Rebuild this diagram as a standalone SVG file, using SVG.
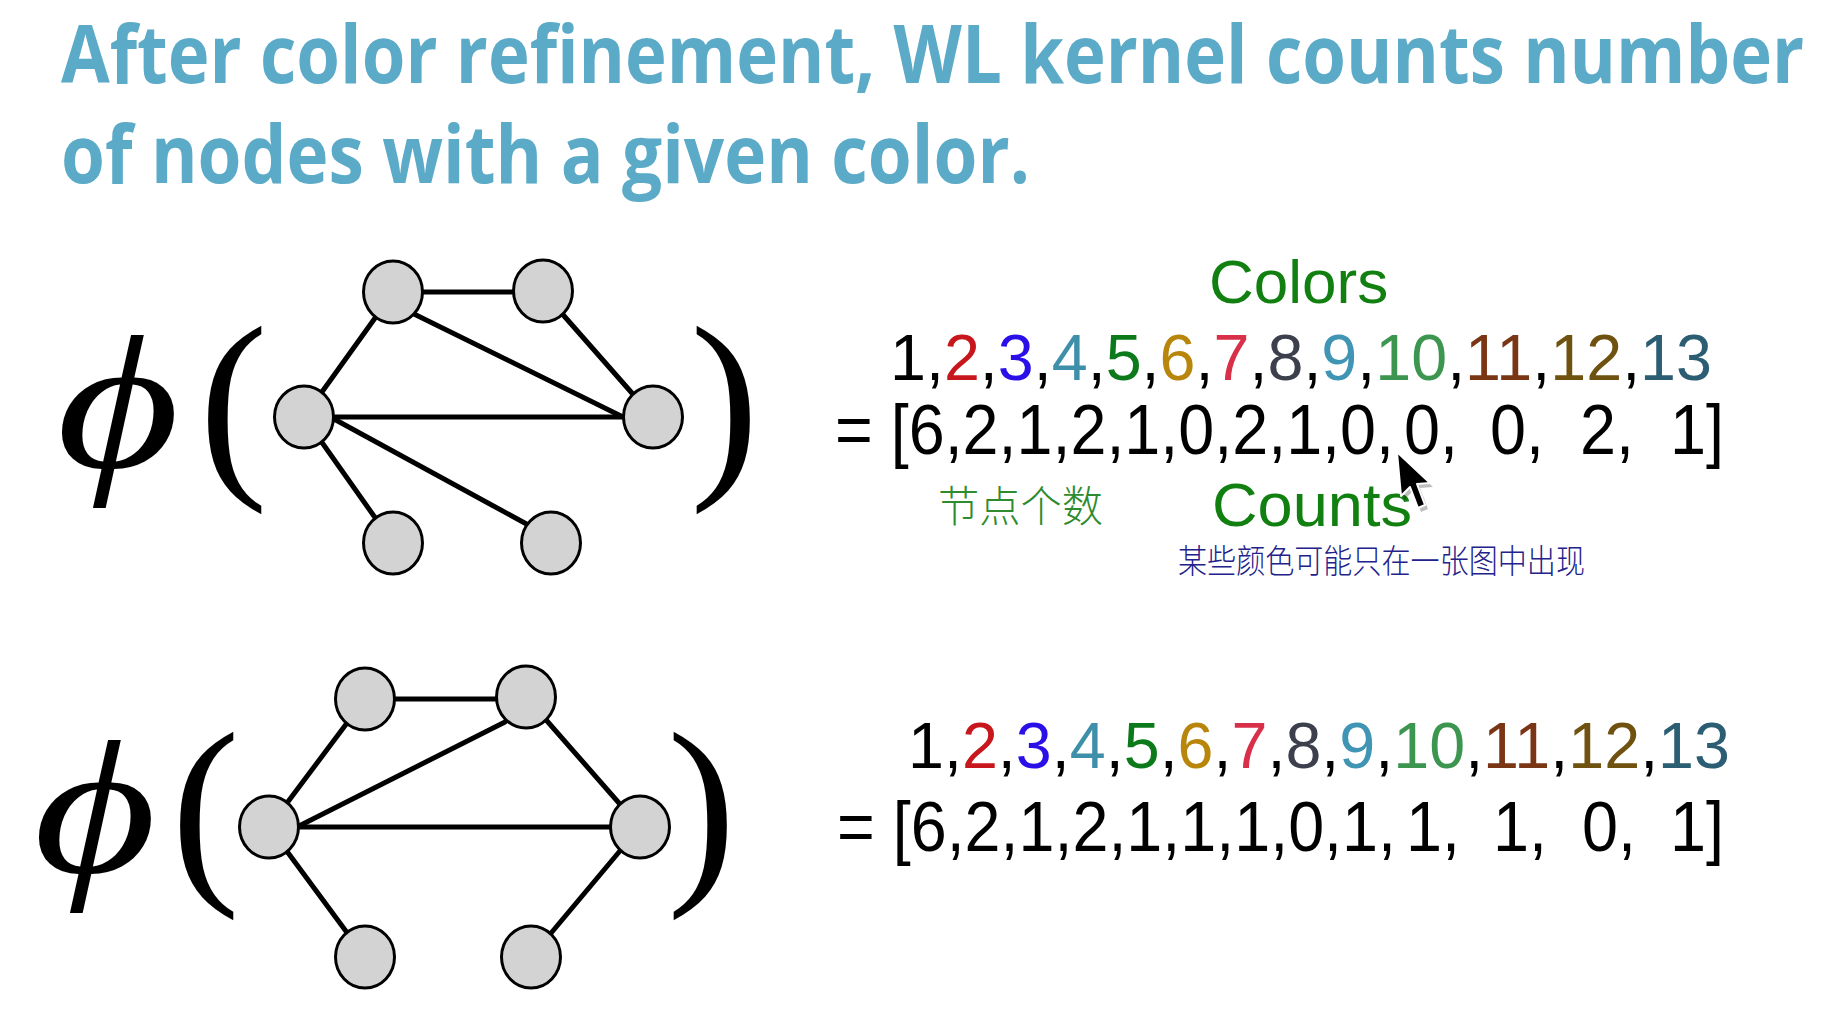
<svg xmlns="http://www.w3.org/2000/svg" width="1827" height="1022" viewBox="0 0 1827 1022">
<style>
.title{font-family:"Open Sans","Liberation Sans",sans-serif;font-weight:700;font-size:70px;fill:#5BAAC7}
.phi{font-family:"Liberation Serif","DejaVu Serif",serif;font-style:italic;font-size:190px;fill:#000}
.par{font-family:"Liberation Serif","DejaVu Serif",serif;font-size:207px;fill:#000}
.node{fill:#D3D3D3;stroke:#000;stroke-width:3}
.edge{stroke:#000;stroke-width:5;stroke-linecap:round}
.num{font-family:"Liberation Sans",Arial,sans-serif;font-size:64px;fill:#000}
.cnt{font-family:"Liberation Sans",Arial,sans-serif;font-size:64.7px;fill:#000}
.lbl{font-family:"Liberation Sans",Arial,sans-serif;font-size:62px;fill:#118011}
.c2{fill:#C8161D}.c3{fill:#2B0FE8}.c4{fill:#3E8FAA}.c5{fill:#0C7A1A}.c6{fill:#B8860B}.c7{fill:#D9304A}
.c8{fill:#3B404C}.c9{fill:#3F95B3}.c10{fill:#3D9650}.c11{fill:#7A3515}.c12{fill:#6F5210}.c13{fill:#2B5D73}
.zh1{font-family:"Noto Sans CJK SC",sans-serif;font-weight:300;font-size:41px;fill:#2E8B2E}
.zh2{font-family:"Noto Sans CJK SC",sans-serif;font-weight:300;font-size:29px;fill:#22228A}
</style>
<rect width="1827" height="1022" fill="#fff"/>
<g id="title">
<text class="title" transform="translate(61,83) scale(1,1.143)" x="0" y="0" textLength="1743" lengthAdjust="spacingAndGlyphs">After color refinement, WL kernel counts number</text>
<text class="title" transform="translate(61,183) scale(1,1.143)" x="0" y="0" textLength="969" lengthAdjust="spacingAndGlyphs">of nodes with a given color.</text>
</g>
<g id="graph1-frame">
<text class="phi" transform="translate(118,467) scale(1.25,1)" x="0" y="0" text-anchor="middle">ϕ</text>
<text class="par" x="199" y="470">(</text>
<text class="par" x="690" y="470">)</text>
</g>
<g id="connectors">
<line class="edge" x1="393" y1="292" x2="543" y2="292"/>
<line class="edge" x1="393" y1="293" x2="304" y2="417"/>
<line class="edge" x1="414" y1="314" x2="623" y2="417"/>
<line class="edge" x1="543" y1="292" x2="653" y2="417"/>
<line class="edge" x1="304" y1="417" x2="653" y2="417"/>
<line class="edge" x1="304" y1="417" x2="393" y2="543"/>
<line class="edge" x1="334" y1="419" x2="532" y2="527"/>
<line class="edge" x1="365" y1="699" x2="526" y2="699"/>
<line class="edge" x1="365" y1="699" x2="269" y2="827"/>
<line class="edge" x1="505" y1="722" x2="299" y2="826"/>
<line class="edge" x1="526" y1="697" x2="640" y2="827"/>
<line class="edge" x1="269" y1="827" x2="640" y2="827"/>
<line class="edge" x1="269" y1="827" x2="365" y2="957"/>
<line class="edge" x1="640" y1="827" x2="531" y2="957"/>
</g>
<g id="g1-n1"><ellipse class="node" cx="393" cy="292" rx="29.5" ry="31"/></g>
<g id="g1-n2"><ellipse class="node" cx="543" cy="291" rx="29.5" ry="31"/></g>
<g id="g1-n3"><ellipse class="node" cx="304" cy="417" rx="29.5" ry="31"/></g>
<g id="g1-n4"><ellipse class="node" cx="653" cy="417" rx="29.5" ry="31"/></g>
<g id="g1-n5"><ellipse class="node" cx="393" cy="543" rx="29.5" ry="31"/></g>
<g id="g1-n6"><ellipse class="node" cx="551" cy="543" rx="29.5" ry="31"/></g>
<g id="graph2-frame">
<text class="phi" transform="translate(95,872) scale(1.25,1)" x="0" y="0" text-anchor="middle">ϕ</text>
<text class="par" x="171" y="876">(</text>
<text class="par" x="667" y="876">)</text>
</g>
<g id="g2-n1"><ellipse class="node" cx="365" cy="699" rx="29.5" ry="31"/></g>
<g id="g2-n2"><ellipse class="node" cx="526" cy="697" rx="29.5" ry="31"/></g>
<g id="g2-n3"><ellipse class="node" cx="269" cy="827" rx="29.5" ry="31"/></g>
<g id="g2-n4"><ellipse class="node" cx="640" cy="827" rx="29.5" ry="31"/></g>
<g id="g2-n5"><ellipse class="node" cx="365" cy="957" rx="29.5" ry="31"/></g>
<g id="g2-n6"><ellipse class="node" cx="531" cy="957" rx="29.5" ry="31"/></g>
<g id="labels">
<text class="lbl" x="1209" y="303">Colors</text>
<text class="lbl" x="1212" y="526" textLength="200" lengthAdjust="spacingAndGlyphs">Counts</text>
<text class="zh1" transform="translate(938,522) scale(1,1.05)" x="0" y="0" textLength="165" lengthAdjust="spacingAndGlyphs">节点个数</text>
<text class="zh2" transform="translate(1178,573) scale(1,1.15)" x="0" y="0" textLength="407" lengthAdjust="spacingAndGlyphs">某些颜色可能只在一张图中出现</text>
</g>
<g id="row1-colors">
<text class="num" x="890" y="380" textLength="822" lengthAdjust="spacingAndGlyphs">1,<tspan class="c2">2</tspan>,<tspan class="c3">3</tspan>,<tspan class="c4">4</tspan>,<tspan class="c5">5</tspan>,<tspan class="c6">6</tspan>,<tspan class="c7">7</tspan>,<tspan class="c8">8</tspan>,<tspan class="c9">9</tspan>,<tspan class="c10">10</tspan>,<tspan class="c11">11</tspan>,<tspan class="c12">12</tspan>,<tspan class="c13">13</tspan></text>
</g>
<g id="row1-counts" transform="translate(0,454) scale(1,1.083)">
<text class="cnt" x="835" y="0" textLength="559" lengthAdjust="spacingAndGlyphs">= [6,2,1,2,1,0,2,1,0,</text>
<text class="cnt" x="1404" y="0" textLength="54" lengthAdjust="spacingAndGlyphs">0,</text>
<text class="cnt" x="1490" y="0" textLength="54" lengthAdjust="spacingAndGlyphs">0,</text>
<text class="cnt" x="1580" y="0" textLength="54" lengthAdjust="spacingAndGlyphs">2,</text>
<text class="cnt" x="1670" y="0" textLength="54" lengthAdjust="spacingAndGlyphs">1]</text>
</g>
<g id="row2-colors">
<text class="num" x="908" y="768" textLength="822" lengthAdjust="spacingAndGlyphs">1,<tspan class="c2">2</tspan>,<tspan class="c3">3</tspan>,<tspan class="c4">4</tspan>,<tspan class="c5">5</tspan>,<tspan class="c6">6</tspan>,<tspan class="c7">7</tspan>,<tspan class="c8">8</tspan>,<tspan class="c9">9</tspan>,<tspan class="c10">10</tspan>,<tspan class="c11">11</tspan>,<tspan class="c12">12</tspan>,<tspan class="c13">13</tspan></text>
</g>
<g id="row2-counts" transform="translate(0,851) scale(1,1.083)">
<text class="cnt" x="837" y="0" textLength="559" lengthAdjust="spacingAndGlyphs">= [6,2,1,2,1,1,1,0,1,</text>
<text class="cnt" x="1406" y="0" textLength="54" lengthAdjust="spacingAndGlyphs">1,</text>
<text class="cnt" x="1493" y="0" textLength="54" lengthAdjust="spacingAndGlyphs">1,</text>
<text class="cnt" x="1582" y="0" textLength="54" lengthAdjust="spacingAndGlyphs">0,</text>
<text class="cnt" x="1670" y="0" textLength="54" lengthAdjust="spacingAndGlyphs">1]</text>
</g>
<g id="cursor">
<polygon points="1400,456 1404,500 1413,491 1421,512 1428,509 1420,488 1433,487" fill="#000" opacity="0.25"/>
<polygon points="1397,452 1401,496 1410,487 1418,508 1425,505 1417,484 1430,483" fill="#000" stroke="#fff" stroke-width="2" stroke-linejoin="round"/>
</g>
</svg>
